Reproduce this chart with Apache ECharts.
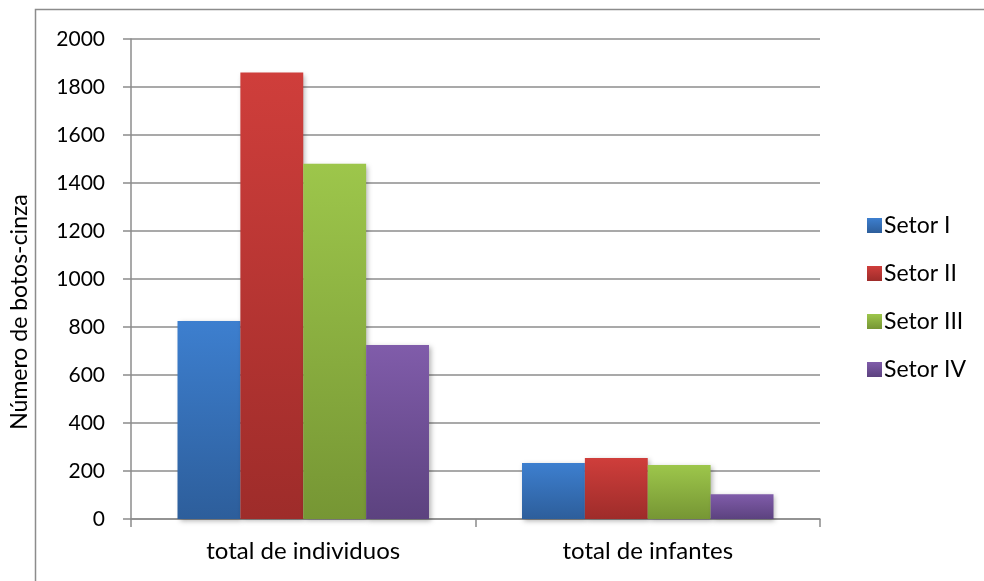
<!DOCTYPE html>
<html>
<head>
<meta charset="utf-8">
<script src="https://cdn.jsdelivr.net/npm/echarts@6/dist/echarts.min.js"></script>
<style>
  html, body { margin: 0; padding: 0; background: #fff; }
  #chart { width: 984px; height: 581px; }
</style>
</head>
<body>
<div id="chart"></div>
<script>
// Categories and counts per sector
const categories = ['total de individuos', 'total de infantes'];
const setorI   = [825, 233];
const setorII  = [1860, 254];
const setorIII = [1480, 225];
const setorIV  = [725, 103];
const seriesNames = ['Setor I', 'Setor II', 'Setor III', 'Setor IV'];
const yTicks = { min: 0, max: 2000, interval: 200 };
const yTitle = 'Número de botos-cinza';

const FONT = 'Lato, "Open Sans", sans-serif';

// top / bottom colours of each bar gradient
const palette = [
  ['#3d7fcf', '#2d5e9b'],
  ['#cf3e3b', '#9e2c2a'],
  ['#9dc64b', '#769634'],
  ['#805caa', '#5c427f']
];

function grad(pair) {
  return new echarts.graphic.LinearGradient(0, 0, 0, 1, [
    { offset: 0, color: pair[0] },
    { offset: 1, color: pair[1] }
  ]);
}

const values = [setorI, setorII, setorIII, setorIV];

const chart = echarts.init(document.getElementById('chart'), null, { renderer: 'canvas' });
chart.setOption({
  animation: false,
  backgroundColor: '#ffffff',
  grid: { left: 131, right: 164, top: 39, bottom: 62, containLabel: false },
  legend: {
    orient: 'vertical',
    left: 862,
    top: 209,
    itemWidth: 15,
    itemHeight: 15,
    itemGap: 25,
    icon: 'rect',
    textStyle: { fontFamily: FONT, fontSize: 23, color: '#000', padding: [0, 0, 0, -3] },
    data: seriesNames
  },
  xAxis: {
    type: 'category',
    data: categories,
    axisLine: { lineStyle: { color: '#8c8c8c', width: 1.5 } },
    axisTick: { show: true, length: 8, lineStyle: { color: '#8c8c8c', width: 1.5 } },
    axisLabel: { fontFamily: FONT, fontSize: 24, color: '#000', margin: 20 }
  },
  yAxis: {
    type: 'value',
    min: yTicks.min,
    max: yTicks.max,
    interval: yTicks.interval,
    axisLine: { show: true, lineStyle: { color: '#8c8c8c', width: 1.5 } },
    axisTick: { show: true, length: 8, inside: false, lineStyle: { color: '#8c8c8c', width: 1.5 } },
    splitLine: { lineStyle: { color: '#8c8c8c', width: 1.5 } },
    axisLabel: {
      fontFamily: FONT, fontSize: 21, color: '#000', margin: 26,
      formatter: (v) => String(v)
    }
  },
  graphic: [
    {
      type: 'polyline',
      shape: { points: [[35.5, 581], [35.5, 9.5], [984, 9.5]] },
      style: { stroke: '#8c8c8c', lineWidth: 1.5, fill: null },
      silent: true
    },
    {
      type: 'text',
      x: 20,
      y: 312,
      rotation: Math.PI / 2,
      style: {
        text: yTitle,
        fontFamily: FONT,
        fontSize: 23,
        fill: '#000',
        align: 'center',
        verticalAlign: 'middle'
      },
      silent: true
    }
  ],
  series: seriesNames.map((name, i) => ({
    name: name,
    type: 'bar',
    data: values[i],
    barGap: '0%',
    barCategoryGap: '27%',
    itemStyle: {
      color: grad(palette[i]),
      shadowColor: 'rgba(0,0,0,0.3)',
      shadowBlur: 5,
      shadowOffsetX: 2,
      shadowOffsetY: 2
    }
  }))
});
</script>
</body>
</html>
